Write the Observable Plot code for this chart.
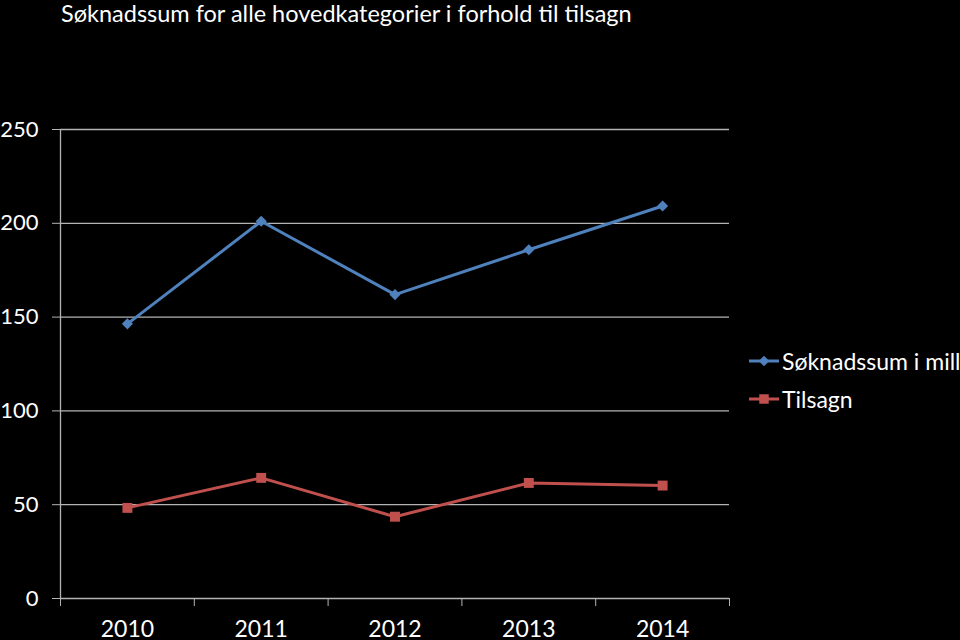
<!DOCTYPE html>
<html>
<head>
<meta charset="utf-8">
<script src="https://cdn.jsdelivr.net/npm/d3@7"></script>
<script src="https://cdn.jsdelivr.net/npm/@observablehq/plot@0.6"></script>
<style>
  html, body { margin: 0; padding: 0; background: #000; overflow: hidden; width: 960px; height: 640px; }
  #wrap { position: relative; width: 960px; height: 640px; }
  #title { height: 40px; padding-left: 61px; font-family: Lato, "Open Sans", sans-serif; font-size: 23.5px; line-height: 26px; color: #fff; white-space: nowrap; }
  #legend { position: absolute; left: 748px; top: 342px; font-family: Lato, "Open Sans", sans-serif; font-size: 23px; color: #fff; white-space: nowrap; }
  #legend .row { display: flex; align-items: center; height: 38px; }
  #legend svg { display: block; margin-right: 2px; }
</style>
</head>
<body>
<div id="wrap">
  <div id="title">Søknadssum for alle hovedkategorier i forhold til tilsagn</div>
  <div id="chart"></div>
  <div id="legend"></div>
</div>
<script>
const years = [2010, 2011, 2012, 2013, 2014];
const soknadssum = [146.4, 201.1, 162.0, 185.9, 209.2];
const tilsagn = [48.3, 64.3, 43.6, 61.6, 60.2];
const yTicks = [0, 50, 100, 150, 200, 250];
const seriesNames = ["Søknadssum i mill", "Tilsagn"];
const seriesColors = ["#4F81BD", "#C0504D"];
const seriesSymbols = ["diamond2", "square"];

const rows = [];
years.forEach((yr, i) => {
  rows.push({year: yr, value: soknadssum[i], series: seriesNames[0]});
  rows.push({year: yr, value: tilsagn[i], series: seriesNames[1]});
});
const boundaries = [years[0] - 0.5, ...years.map(y => y + 0.5)];
const gridColor = "#b3b3b3";

const chart = Plot.plot({
  width: 960,
  height: 600,
  marginTop: 89,
  marginBottom: 42,
  marginLeft: 60,
  marginRight: 231,
  style: {background: "#000", color: "#fff", fontFamily: "Lato, 'Open Sans', sans-serif", fontSize: "22px", overflow: "visible"},
  x: {domain: [years[0] - 0.5, years[years.length - 1] + 0.5], axis: null},
  y: {domain: [0, 250], axis: null},
  color: {domain: seriesNames, range: seriesColors},
  symbol: {domain: seriesNames, range: seriesSymbols},
  marks: [
    Plot.gridY(yTicks, {stroke: gridColor, strokeOpacity: 1, strokeWidth: 1.3}),
    Plot.axisY(yTicks, {tickSize: 8, tickPadding: 14, stroke: gridColor, fill: "#fff", fontSize: 22, label: null, tickFormat: d => String(d)}),
    Plot.ruleX([boundaries[0]], {stroke: gridColor, strokeWidth: 1.3, y1: 0, y2: 250}),
    Plot.axisX(boundaries, {tickSize: 8, stroke: gridColor, tickFormat: () => "", label: null}),
    Plot.axisX(years, {tickSize: 0, tickPadding: 22, fill: "#fff", fontSize: 23, label: null, tickFormat: d => String(d)}),
    Plot.line(rows, {x: "year", y: "value", z: "series", stroke: "series", strokeWidth: 3}),
    Plot.dot(rows.filter(d => d.series === seriesNames[0]), {x: "year", y: "value", symbol: "series", fill: "series", r: 5}),
    Plot.dot(rows.filter(d => d.series === seriesNames[1]), {x: "year", y: "value", symbol: "series", fill: "series", r: 5.6})
  ]
});
document.getElementById("chart").appendChild(chart);

const legend = d3.select("#legend");
seriesNames.forEach((name, i) => {
  const row = legend.append("div").attr("class", "row");
  const svg = row.append("svg").attr("width", 32).attr("height", 16);
  svg.append("line").attr("x1", 1).attr("x2", 31).attr("y1", 8).attr("y2", 8)
    .attr("stroke", seriesColors[i]).attr("stroke-width", 3);
  const sym = i === 0 ? d3.symbolDiamond2 : d3.symbolSquare;
  svg.append("path").attr("d", d3.symbol(sym, i === 0 ? 70 : 90)())
    .attr("transform", "translate(16,8)").attr("fill", seriesColors[i]);
  row.append("span").text(name);
});
</script>
</body>
</html>
